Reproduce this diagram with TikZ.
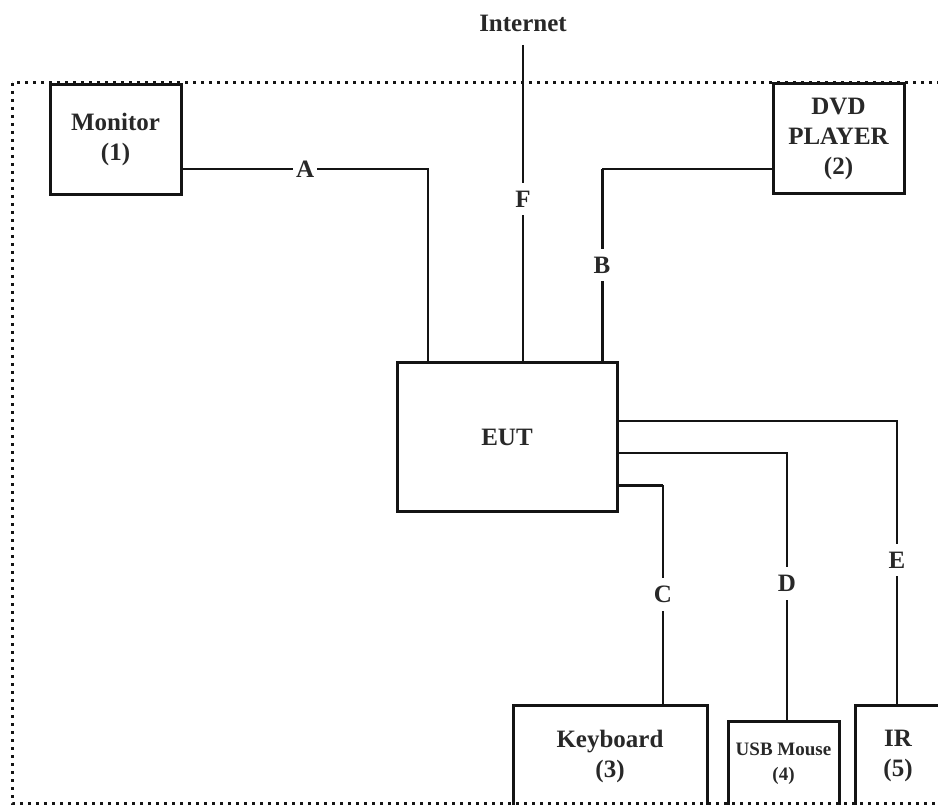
\documentclass[tikz,border=0pt]{standalone}
\usepackage{fontspec}
\setmainfont{Liberation Serif}
\definecolor{ink}{RGB}{20,20,20}
\definecolor{txt}{RGB}{40,40,40}
\begin{document}
\begin{tikzpicture}[x=1pt,y=-1pt,
  box/.style={draw=ink, line width=3pt, align=center, inner sep=0pt,
    font=\fontsize{25}{30}\selectfont\bfseries, text=txt},
  smallbox/.style={box, font=\fontsize{19}{25}\selectfont\bfseries},
  wire/.style={draw=ink, line width=2.2pt},
  heavy/.style={draw=ink, line width=3pt},
  lbl/.style={fill=white, inner xsep=3pt, inner ysep=8pt,
    font=\fontsize{25}{30}\selectfont\bfseries, text=txt},
  frame/.style={draw=ink, line width=3pt, dash pattern=on 3pt off 5pt}]
\useasboundingbox (0,0) rectangle (938,805);
\clip (0,0) rectangle (938,805);
\draw[frame] (12,83) rectangle (960,803);

\node[box, minimum width=131pt, minimum height=110pt] (mon) at (115.5,139.5) {Monitor\\(1)};
\node[box, minimum width=131pt, minimum height=110pt] (dvd) at (838.5,139) {DVD\\PLAYER\\(2)};
\node[box, minimum width=220pt, minimum height=148pt] (eut) at (507,437) {EUT};
\node[box, minimum width=194pt, minimum height=102pt] (kbd) at (610,756) {Keyboard\\(3)};
\node[smallbox, minimum width=111pt, minimum height=86pt] (mouse) at (783.5,764) {USB Mouse\\(4)};
\node[box, minimum width=86pt, minimum height=102pt] (ir) at (898,756) {IR\\(5)};
\node[anchor=base, inner sep=0pt, font=\fontsize{25}{30}\selectfont\bfseries, text=txt] (inet) at (523,32) {Internet};

% A
\draw[wire] ([yshift=-29.5pt]mon.east) -| node[lbl, pos=0.25]{A} ([xshift=-79pt]eut.north);
% F
\draw[wire] ([yshift=-13pt]inet.base) -- node[lbl, pos=0.487]{F} ([xshift=16pt]eut.north);
% B
\coordinate (bk) at (602,169);
\draw[wire] ([yshift=-30pt]dvd.west) -- (bk);
\draw[heavy] (bk) -- node[lbl]{B} ([xshift=95pt]eut.north);
% E
\draw[wire] ([yshift=16pt]eut.east) -| node[lbl, pos=0.746]{E} ([xshift=-1pt]ir.north);
% D
\draw[wire] ([yshift=-16pt]eut.east) -| node[lbl, pos=0.745]{D} ([xshift=3.5pt]mouse.north);
% C
\coordinate (ck) at (663,485);
\draw[heavy] ([yshift=-48pt]eut.east) -- (ck);
\draw[wire] (ck) -- node[lbl]{C} ([xshift=53pt]kbd.north);
\end{tikzpicture}
\end{document}
